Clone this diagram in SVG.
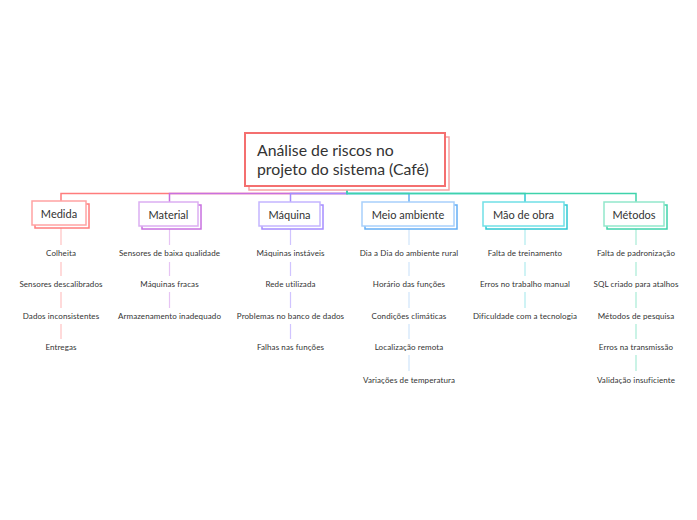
<svg xmlns="http://www.w3.org/2000/svg" width="697" height="520" viewBox="0 0 697 520">
<style>
text{font-family:Lato,"Open Sans","Liberation Sans",sans-serif;fill:#333333}
.title{font-size:15.8px}
.lbl{font-size:11px;text-anchor:middle;dominant-baseline:central}
.leaf{font-size:8px;text-anchor:middle;dominant-baseline:central;letter-spacing:0.1px}
.box{fill:#ffffff}
.conn{fill:none;stroke-width:1.5}
.sub{fill:none;stroke-width:1.2}
</style>
<rect width="697" height="520" fill="#ffffff"/>
<g id="connectors">
  <g class="conn">
    <path d="M347 190 V193.5 H61 V202" stroke="#ff7c7c"/>
    <path d="M347 190 V193.5 H169.5 V202" stroke="#c870e0"/>
    <path d="M347 190 V193.5 H290.5 V202" stroke="#a58cff"/>
    <path d="M347 190 V193.5 H409 V202" stroke="#64aef5"/>
    <path d="M347 190 V193.5 H525 V202" stroke="#2ec8d2"/>
    <path d="M347 190 V193.5 H636 V202" stroke="#3fd3ab"/>
  </g>
  <g class="sub" stroke="#ffc2c2">
    <path d="M61 228 V245 M61 262 V276 M61 292 V308 M61 324 V339"/>
  </g>
  <g class="sub" stroke="#e6c4f4">
    <path d="M169.5 228 V245 M169.5 262 V276 M169.5 292 V308"/>
  </g>
  <g class="sub" stroke="#d0c4ff">
    <path d="M290.5 228 V245 M290.5 262 V276 M290.5 292 V308 M290.5 324 V339"/>
  </g>
  <g class="sub" stroke="#cfe4fb">
    <path d="M409 228 V245 M409 262 V276 M409 292 V308 M409 324 V339 M409 355 V371"/>
  </g>
  <g class="sub" stroke="#b0ecef">
    <path d="M525 228 V245 M525 262 V276 M525 292 V308"/>
  </g>
  <g class="sub" stroke="#a8ecd6">
    <path d="M636 228 V245 M636 262 V276 M636 292 V308 M636 324 V339 M636 355 V371"/>
  </g>
</g>
<g id="main">
  <rect class="box" x="249" y="137" width="200" height="53" stroke="#f7a3a3" stroke-width="1.5"/>
  <rect class="box" x="245" y="133" width="200" height="53" stroke="#f46f6f" stroke-width="2"/>
  <text class="title" x="257" y="156">Análise de riscos no</text>
  <text class="title" x="257" y="175">projeto do sistema (Café)</text>
</g>
<g id="medida">
  <rect class="box" x="35" y="204" width="54" height="24" stroke="#ff7c7c" stroke-width="1.5"/>
  <rect class="box" x="32" y="201" width="54" height="24" stroke="#ffa3a3" stroke-width="1.5"/>
  <text class="lbl" x="59" y="213.5">Medida</text>
  <text class="leaf" x="61" y="253.3">Colheita</text>
  <text class="leaf" x="61" y="284.3">Sensores descalibrados</text>
  <text class="leaf" x="61" y="316.3">Dados inconsistentes</text>
  <text class="leaf" x="61" y="347.3">Entregas</text>
</g>
<g id="material">
  <rect class="box" x="142" y="205" width="59" height="24" stroke="#c870e0" stroke-width="1.5"/>
  <rect class="box" x="139" y="202" width="59" height="24" stroke="#dcaef2" stroke-width="1.5"/>
  <text class="lbl" x="168.5" y="214">Material</text>
  <text class="leaf" x="169.5" y="253.3">Sensores de baixa qualidade</text>
  <text class="leaf" x="169.5" y="284.3">Máquinas fracas</text>
  <text class="leaf" x="169.5" y="316.3">Armazenamento inadequado</text>
</g>
<g id="maquina">
  <rect class="box" x="262" y="205" width="61" height="24" stroke="#a58cff" stroke-width="1.5"/>
  <rect class="box" x="259" y="202" width="61" height="24" stroke="#c4b5ff" stroke-width="1.5"/>
  <text class="lbl" x="289.5" y="214">Máquina</text>
  <text class="leaf" x="290.5" y="253.3">Máquinas instáveis</text>
  <text class="leaf" x="290.5" y="284.3">Rede utilizada</text>
  <text class="leaf" x="290.5" y="316.3">Problemas no banco de dados</text>
  <text class="leaf" x="290.5" y="347.3">Falhas nas funções</text>
</g>
<g id="meio-ambiente">
  <rect class="box" x="365" y="205" width="92" height="24" stroke="#64aef5" stroke-width="1.5"/>
  <rect class="box" x="362" y="202" width="92" height="24" stroke="#a8d0fb" stroke-width="1.5"/>
  <text class="lbl" x="408" y="214">Meio ambiente</text>
  <text class="leaf" x="409" y="253.3">Dia a Dia do ambiente rural</text>
  <text class="leaf" x="409" y="284.3">Horário das funções</text>
  <text class="leaf" x="409" y="316.3">Condições climáticas</text>
  <text class="leaf" x="409" y="347.3">Localização remota</text>
  <text class="leaf" x="409" y="379.7">Variações de temperatura</text>
</g>
<g id="mao-de-obra">
  <rect class="box" x="486" y="205" width="81" height="24" stroke="#2ec8d2" stroke-width="1.5"/>
  <rect class="box" x="483" y="202" width="81" height="24" stroke="#70e0e6" stroke-width="1.5"/>
  <text class="lbl" x="523.5" y="214">Mão de obra</text>
  <text class="leaf" x="525" y="253.3">Falta de treinamento</text>
  <text class="leaf" x="525" y="284.3">Erros no trabalho manual</text>
  <text class="leaf" x="525" y="316.3">Dificuldade com a tecnologia</text>
</g>
<g id="metodos">
  <rect class="box" x="607" y="205" width="60" height="24" stroke="#3fd3ab" stroke-width="1.5"/>
  <rect class="box" x="604" y="202" width="60" height="24" stroke="#92e8cb" stroke-width="1.5"/>
  <text class="lbl" x="634" y="214">Métodos</text>
  <text class="leaf" x="636" y="253.3">Falta de padronização</text>
  <text class="leaf" x="636" y="284.3">SQL criado para atalhos</text>
  <text class="leaf" x="636" y="316.3">Métodos de pesquisa</text>
  <text class="leaf" x="636" y="347.3">Erros na transmissão</text>
  <text class="leaf" x="636" y="379.7">Validação insuficiente</text>
</g>
</svg>
